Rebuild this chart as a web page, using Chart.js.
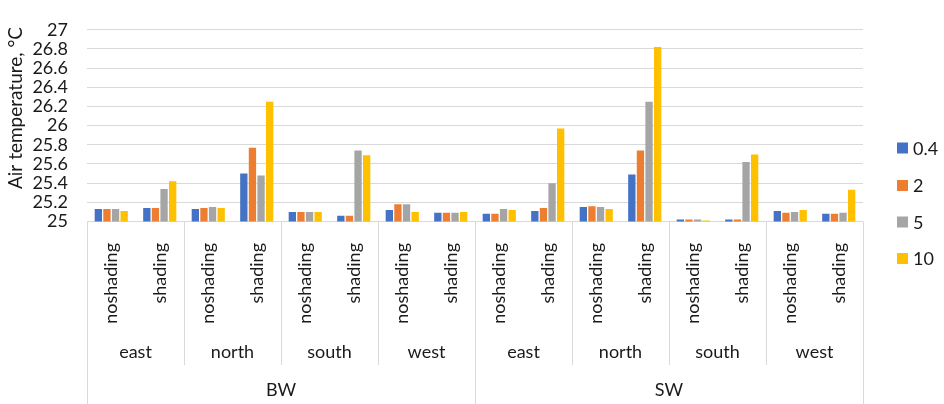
<!DOCTYPE html>
<html>
<head>
<meta charset="utf-8">
<script src="https://cdn.jsdelivr.net/npm/chart.js@4"></script>
<style>
  html, body { margin: 0; padding: 0; background: #fff; }
  #wrap { width: 944px; height: 404px; }
</style>
</head>
<body>
<div id="wrap"><canvas id="c" width="944" height="404"></canvas></div>
<script>
// Category hierarchy: wall type > orientation > shading
const groups = ['BW', 'SW'];
const orientations = ['east', 'north', 'south', 'west'];
const shadings = ['noshading', 'shading'];

// Series names (legend)
const seriesNames = ['0.4', '2', '5', '10'];

// Air temperature, °C, one value per (group, orientation, shading)
const s04 = [25.13, 25.14, 25.13, 25.50, 25.10, 25.06, 25.12, 25.09,
             25.08, 25.11, 25.15, 25.49, 25.02, 25.02, 25.11, 25.08];
const s2  = [25.13, 25.14, 25.14, 25.77, 25.10, 25.06, 25.18, 25.09,
             25.08, 25.14, 25.16, 25.74, 25.02, 25.02, 25.09, 25.08];
const s5  = [25.13, 25.34, 25.15, 25.48, 25.10, 25.74, 25.18, 25.09,
             25.13, 25.40, 25.15, 26.25, 25.02, 25.62, 25.10, 25.09];
const s10 = [25.11, 25.42, 25.14, 26.25, 25.10, 25.69, 25.10, 25.10,
             25.12, 25.97, 25.13, 26.82, 25.01, 25.70, 25.12, 25.33];

// Y axis range
const yMin = 25, yMax = 27, yStep = 0.2;

const colors = ['#4472C4', '#ED7D31', '#A5A5A5', '#FFC000'];
const FONT = 'Lato, "Open Sans", "Liberation Sans", sans-serif';
const TEXT = '#1a1a1a';
const LINE = '#d9d9d9';

// Flat leaf labels built from the hierarchy
const labels = [];
groups.forEach(g => orientations.forEach(o => shadings.forEach(s => labels.push(g + '|' + o + '|' + s))));

const seriesValues = [s04, s2, s5, s10];

// Draws the three-level category axis, the y title and the legend
const multiLevelAxis = {
  id: 'multiLevelAxis',
  afterDraw(chart) {
    const ctx = chart.ctx;
    const x = chart.scales.x;
    const area = chart.chartArea;
    const base = area.bottom;
    const n = labels.length;
    const px = i => x.getPixelForValue(i);
    const edge = i => (i <= 0 ? x.left : i >= n ? x.right : (px(i - 1) + px(i)) / 2);

    ctx.save();
    ctx.strokeStyle = LINE;
    ctx.lineWidth = 1;
    const vline = (xx, y1, y2) => {
      const xr = Math.round(xx) + 0.5;
      ctx.beginPath(); ctx.moveTo(xr, y1); ctx.lineTo(xr, y2); ctx.stroke();
    };
    const perOrient = shadings.length;
    const perGroup = orientations.length * perOrient;
    for (let i = 0; i <= n; i++) {
      if (i % perGroup === 0) vline(edge(i), base, 404);
      else if (i % perOrient === 0) vline(edge(i), base, 365);
    }

    // level 1: rotated shading labels
    ctx.fillStyle = TEXT;
    ctx.font = '18px ' + FONT;
    labels.forEach((lab, i) => {
      const s = lab.split('|')[2];
      ctx.save();
      ctx.translate(px(i), 243);
      ctx.rotate(-Math.PI / 2);
      ctx.textAlign = 'right';
      ctx.textBaseline = 'middle';
      ctx.fillText(s, 0, 0);
      ctx.restore();
    });

    // level 2: orientation labels
    ctx.textAlign = 'center';
    ctx.textBaseline = 'middle';
    for (let k = 0; k < groups.length * orientations.length; k++) {
      const cx = (edge(k * perOrient) + edge((k + 1) * perOrient)) / 2;
      ctx.fillText(orientations[k % orientations.length], cx, 352);
    }
    // level 3: wall type labels
    groups.forEach((g, k) => {
      const cx = (edge(k * perGroup) + edge((k + 1) * perGroup)) / 2;
      ctx.fillText(g, cx, 390);
    });

    // y axis title
    ctx.save();
    ctx.font = '19px ' + FONT;
    ctx.translate(16, 108);
    ctx.rotate(-Math.PI / 2);
    ctx.fillText('Air temperature, \u00B0C', 0, 0);
    ctx.restore();

    // legend
    const legY = [148, 185.5, 222, 258.5];
    ctx.textAlign = 'left';
    chart.data.datasets.forEach((ds, k) => {
      ctx.fillStyle = ds.backgroundColor;
      ctx.fillRect(897, legY[k] - 5.5, 11, 11);
      ctx.fillStyle = TEXT;
      ctx.fillText(ds.label, 913, legY[k] + 1);
    });
    ctx.restore();
  }
};

new Chart(document.getElementById('c'), {
  type: 'bar',
  data: {
    labels: labels,
    datasets: seriesNames.map((name, k) => ({
      label: name,
      data: seriesValues[k],
      backgroundColor: colors[k],
      borderWidth: 0,
      categoryPercentage: 0.71,
      barPercentage: 0.85
    }))
  },
  options: {
    responsive: false,
    animation: false,
    devicePixelRatio: 1,
    layout: { padding: { left: 0, right: 81, top: 16, bottom: 174.5 } },
    plugins: { legend: { display: false }, tooltip: { enabled: false } },
    scales: {
      x: {
        ticks: { display: false },
        grid: { display: false },
        border: { display: false }
      },
      y: {
        min: yMin,
        max: yMax,
        afterFit(scale) { scale.width = 87; },
        ticks: {
          stepSize: yStep,
          autoSkip: false,
          padding: 19,
          color: TEXT,
          font: { family: FONT, size: 18 },
          callback: v => String(Math.round(v * 10) / 10)
        },
        grid: { color: LINE, drawTicks: false, lineWidth: 1 },
        border: { display: false }
      }
    }
  },
  plugins: [multiLevelAxis]
});
</script>
</body>
</html>
